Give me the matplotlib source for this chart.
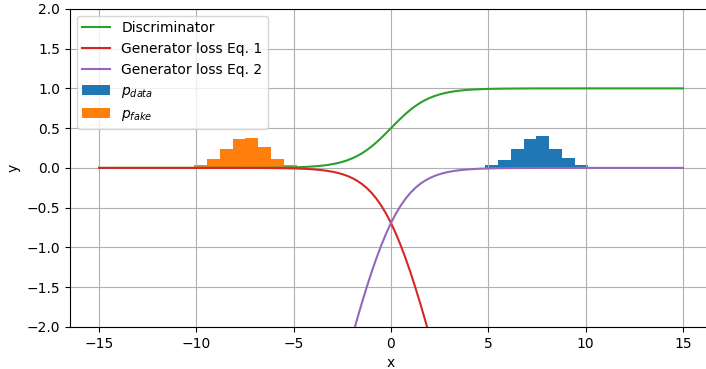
import numpy as np
import matplotlib
matplotlib.use("Agg")
import matplotlib.pyplot as plt

# sample points of the curves
x_curve = [-15, -10, -8, -7, -6, -5.5, -5, -4.5, -4, -3.75, -3.5, -3.25, -3,
           -2.75, -2.5, -2.25, -2, -1.75, -1.5, -1.25, -1, -0.75, -0.5, -0.25,
           0, 0.25, 0.5, 0.75, 1, 1.25, 1.5, 1.75, 2, 2.25, 2.5, 2.75, 3,
           3.25, 3.5, 3.75, 4, 4.5, 5, 5.5, 6, 7, 8, 10, 15]

disc = [0.0, 0.00005, 0.0003, 0.0009, 0.0025, 0.0041, 0.0067, 0.011, 0.018,
        0.023, 0.0293, 0.0373, 0.0474, 0.0601, 0.0759, 0.0953, 0.1192, 0.148,
        0.1824, 0.2227, 0.2689, 0.3208, 0.3775, 0.4378, 0.5, 0.5622, 0.6225,
        0.6792, 0.7311, 0.7773, 0.8176, 0.852, 0.8808, 0.9047, 0.9241,
        0.9399, 0.9526, 0.9627, 0.9707, 0.977, 0.982, 0.989, 0.9933, 0.9959,
        0.9975, 0.9991, 0.9997, 0.99995, 1.0]

gen_loss1 = [0.0, -0.00005, -0.0003, -0.0009, -0.0025, -0.0041, -0.0067,
             -0.011, -0.0181, -0.0233, -0.0298, -0.038, -0.0486, -0.062,
             -0.0789, -0.1002, -0.1269, -0.1602, -0.2014, -0.2519, -0.3133,
             -0.3869, -0.4741, -0.5759, -0.6931, -0.8259, -0.9741, -1.1369,
             -1.3133, -1.5019, -1.7014, -1.9102, -2.1269, -2.3502, -2.5789,
             -2.812, -3.0486, -3.288, -3.5298, -3.7733, -4.0181, -4.511,
             -5.0067, -5.5041, -6.0025, -7.0009, -8.0003, -10.0, -15.0]

gen_loss2 = [-15.0, -10.0, -8.0003, -7.0009, -6.0025, -5.5041, -5.0067,
             -4.511, -4.0181, -3.7733, -3.5298, -3.288, -3.0486, -2.812,
             -2.5789, -2.3502, -2.1269, -1.9102, -1.7014, -1.5019, -1.3133,
             -1.1369, -0.9741, -0.8259, -0.6931, -0.5759, -0.4741, -0.3869,
             -0.3133, -0.2519, -0.2014, -0.1602, -0.1269, -0.1002, -0.0789,
             -0.062, -0.0486, -0.038, -0.0298, -0.0233, -0.0181, -0.011,
             -0.0067, -0.0041, -0.0025, -0.0009, -0.0003, -0.00005, 0.0]

# histograms (bin edges and heights)
data_edges = [4.83, 5.49, 6.15, 6.81, 7.46, 8.12, 8.78, 9.44, 10.10]
data_heights = [0.034, 0.10, 0.235, 0.361, 0.399, 0.235, 0.126, 0.034]

fake_edges = [-10.12, -9.46, -8.80, -8.14, -7.48, -6.82, -6.16, -5.50, -4.84]
fake_heights = [0.034, 0.109, 0.235, 0.361, 0.374, 0.26, 0.109, 0.034]


def main():
    fig = plt.figure(figsize=(7.06, 3.69), dpi=100)
    ax = fig.add_axes([0.099, 0.114, 0.9096, 0.862])

    ax.plot(x_curve, disc, color="C2", label="Discriminator")
    ax.plot(x_curve, gen_loss1, color="C3", label="Generator loss Eq. 1")
    ax.plot(x_curve, gen_loss2, color="C4", label="Generator loss Eq. 2")

    ax.bar(data_edges[:-1], data_heights, width=np.diff(data_edges),
           align="edge", color="C0", label="$p_{data}$")
    ax.bar(fake_edges[:-1], fake_heights, width=np.diff(fake_edges),
           align="edge", color="C1", label="$p_{fake}$")

    ax.set_xlim(-16.5, 16.5)
    ax.set_ylim(-2, 2)
    ax.set_xticks([-15, -10, -5, 0, 5, 10, 15])
    ax.set_yticks([-2.0, -1.5, -1.0, -0.5, 0.0, 0.5, 1.0, 1.5, 2.0])
    ax.set_xlabel("x")
    ax.set_ylabel("y")
    ax.grid(True)
    ax.legend(loc="upper left")

    fig.savefig("out.png", dpi=100)


if __name__ == '__main__':
    main()
